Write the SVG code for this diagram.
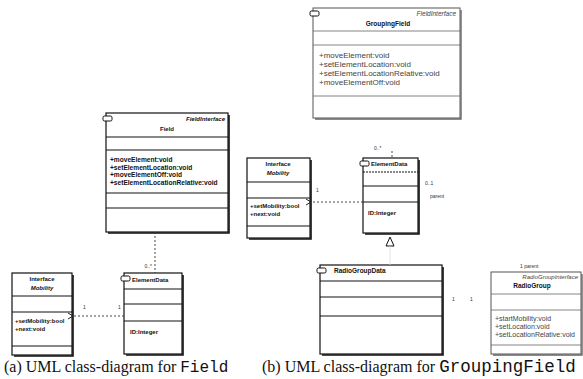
<svg xmlns="http://www.w3.org/2000/svg" width="583" height="379" viewBox="0 0 583 379">
<style>
.box{fill:#fff;stroke:#111;stroke-width:1.2}
.lbox{fill:#fff;stroke:#555;stroke-width:1}
.sh{fill:none;stroke:#111;stroke-width:1.6}
.lsh{fill:none;stroke:#666;stroke-width:1.4}
.sep{stroke:#111;stroke-width:1}
.lsep{stroke:#666;stroke-width:0.8}
.icon{fill:#fff;stroke:#111;stroke-width:1}
.t{font-family:"Liberation Sans",Arial,sans-serif;font-size:6px;fill:#111}
.b{font-weight:bold}
.i{font-style:italic}
.g{fill:#444}
.c{text-anchor:middle}
.e{text-anchor:end}
.s65{font-size:6.5px}
.s66{font-size:6.6px}
.s7{font-size:7px}
.s8{font-size:8px}
.m{font-family:"Liberation Sans",Arial,sans-serif;font-size:5px;fill:#333}
.dash{fill:none;stroke:#333;stroke-width:0.9;stroke-dasharray:2,2}
.cap{font-family:"Liberation Serif","Times New Roman",serif;font-size:16px;fill:#111}
.tt{font-family:"Liberation Mono","Courier New",monospace}
</style>
<defs>
<marker id="open" markerWidth="8" markerHeight="8" refX="1" refY="4" orient="auto" markerUnits="userSpaceOnUse">
<path d="M6,1 L1,4 L6,7" fill="none" stroke="#222" stroke-width="1"/>
</marker>
</defs>

<g id="GroupingField">
<rect class="lbox" x="313" y="8" width="147" height="110"/>
<polyline class="lsh" points="461,10 461,119 315,119"/>
<rect class="icon" x="310" y="11" width="9" height="5" rx="1.5" stroke="#444"/>
<text class="t i g e s65" x="456" y="16">FieldInterface</text>
<text class="t b c s65" x="388" y="26">GroupingField</text>
<line class="lsep" x1="313" y1="31" x2="460" y2="31"/>
<line class="lsep" x1="313" y1="45" x2="460" y2="45"/>
<text class="t g s8" x="319" y="58">+moveElement:void</text>
<text class="t g s8" x="319" y="67">+setElementLocation:void</text>
<text class="t g s8" x="319" y="76">+setElementLocationRelative:void</text>
<text class="t g s8" x="319" y="85">+moveElementOff:void</text>
<line class="lsep" x1="313" y1="96" x2="460" y2="96"/>
</g>

<g id="Field">
<rect class="box" x="106" y="113" width="122" height="119"/>
<polyline class="sh" points="229,115 229,233 108,233"/>
<rect class="icon" x="103" y="116" width="9" height="5" rx="1.5"/>
<text class="t i b e" x="225" y="121">FieldInterface</text>
<text class="t b c" x="167" y="131">Field</text>
<line class="sep" x1="106" y1="137" x2="228" y2="137"/>
<line class="sep" x1="106" y1="150" x2="228" y2="150"/>
<text class="t b s66" x="110" y="162">+moveElement:void</text>
<text class="t b s66" x="110" y="169.5">+setElementLocation:void</text>
<text class="t b s66" x="110" y="177">+moveElementOff:void</text>
<text class="t b s66" x="110" y="184.5">+setElementLocationRelative:void</text>
<line class="sep" x1="106" y1="193" x2="228" y2="193"/>
<line class="sep" x1="106" y1="208" x2="228" y2="208"/>
</g>

<g id="MobilityB">
<rect class="box" x="247" y="158" width="63" height="80"/>
<polyline class="sh" points="311,160 311,239 249,239"/>
<text class="t b c" x="278" y="166">Interface</text>
<text class="t b i c" x="278" y="175">Mobility</text>
<line class="sep" x1="247" y1="182" x2="310" y2="182"/>
<line class="sep" x1="247" y1="198" x2="310" y2="198"/>
<text class="t b" x="250" y="208">+setMobility:bool</text>
<text class="t b" x="250" y="216">+next:void</text>
<line class="sep" x1="247" y1="226" x2="310" y2="226"/>
</g>

<g id="ElementDataB">
<rect class="box" x="363" y="158" width="55" height="75"/>
<polyline class="sh" points="419,160 419,234 365,234"/>
<rect class="icon" x="360" y="161" width="9" height="5" rx="1.5"/>
<text class="t b" x="371" y="166">ElementData</text>
<line class="sep" x1="363" y1="172" x2="418" y2="172" stroke-dasharray="2,1"/>
<line class="sep" x1="363" y1="186" x2="418" y2="186"/>
<line class="sep" x1="363" y1="202" x2="418" y2="202"/>
<text class="t b" x="368" y="215">ID:Integer</text>
</g>

<g id="RadioGroupData">
<rect class="box" x="320" y="265" width="122" height="89"/>
<polyline class="sh" points="443,267 443,355 322,355"/>
<rect class="icon" x="317" y="268" width="9" height="5" rx="1.5"/>
<text class="t b s65" x="334" y="273">RadioGroupData</text>
<line class="sep" x1="320" y1="281" x2="442" y2="281"/>
<line class="sep" x1="320" y1="297" x2="442" y2="297"/>
<line class="sep" x1="320" y1="316" x2="442" y2="316"/>
</g>

<g id="RadioGroup">
<rect class="lbox" x="491" y="272" width="90" height="82" stroke="#777"/>
<polyline class="lsh" points="582,274 582,355 493,355" stroke="#888"/>
<text class="t i g e" x="578" y="279">RadioGroupInterface</text>
<text class="t b c s65" x="532" y="288">RadioGroup</text>
<line class="lsep" x1="491" y1="294" x2="581" y2="294"/>
<line class="lsep" x1="491" y1="310" x2="581" y2="310"/>
<text class="t g s7" x="495" y="321">+startMobility:void</text>
<text class="t g s7" x="495" y="329">+setLocation:void</text>
<text class="t g s7" x="495" y="337">+setLocationRelative:void</text>
<line class="lsep" x1="491" y1="345" x2="581" y2="345"/>
</g>

<g id="MobilityA">
<rect class="box" x="12" y="273" width="60" height="82"/>
<polyline class="sh" points="73,275 73,356 14,356"/>
<text class="t b c" x="42" y="281">Interface</text>
<text class="t b i c" x="42" y="290">Mobility</text>
<line class="sep" x1="12" y1="296" x2="72" y2="296"/>
<line class="sep" x1="12" y1="312" x2="72" y2="312"/>
<text class="t b" x="15" y="323">+setMobility:bool</text>
<text class="t b" x="15" y="331">+next:void</text>
<line class="sep" x1="12" y1="346" x2="72" y2="346"/>
</g>

<g id="ElementDataA">
<rect class="box" x="124" y="273" width="58" height="81"/>
<polyline class="sh" points="183,275 183,355 126,355"/>
<rect class="icon" x="121" y="276" width="9" height="5" rx="1.5"/>
<text class="t b" x="132" y="282">ElementData</text>
<line class="sep" x1="124" y1="289" x2="182" y2="289"/>
<line class="sep" x1="124" y1="304" x2="182" y2="304"/>
<line class="sep" x1="124" y1="321" x2="182" y2="321"/>
<text class="t b" x="130" y="334">ID:Integer</text>
</g>

<g id="connectors">
<line class="dash" x1="155" y1="232" x2="155" y2="273"/>
<text class="m e" x="152" y="268">0..*</text>
<line class="dash" x1="124" y1="316" x2="73" y2="316" marker-end="url(#open)"/>
<text class="m" x="83" y="309">1</text>
<text class="m" x="118" y="309">1</text>
<line class="dash" x1="363" y1="202" x2="311" y2="202" marker-end="url(#open)"/>
<text class="m" x="316" y="192">1</text>
<line class="dash" x1="392" y1="151" x2="392" y2="158" stroke="#777"/>
<text class="m" x="374" y="150">0..*</text>
<text class="m" x="425" y="185">0..1</text>
<text class="m" x="430" y="198">parent</text>
<path d="M390,237 L386,246 L394,246 Z" fill="#fff" stroke="#111" stroke-width="1"/>
<line x1="390" y1="246" x2="390" y2="265" stroke="#ddd" stroke-width="0.8"/>
<text class="m" x="452" y="301">1</text>
<text class="m" x="470" y="301">1</text>
<text class="m" x="520" y="268">1  parent</text>
</g>

<text class="cap" x="4" y="372">(a) UML class-diagram for <tspan class="tt">Field</tspan></text>
<text class="cap" x="262" y="372">(b) UML class-diagram for <tspan class="tt" font-size="17.5">GroupingField</tspan></text>
</svg>
